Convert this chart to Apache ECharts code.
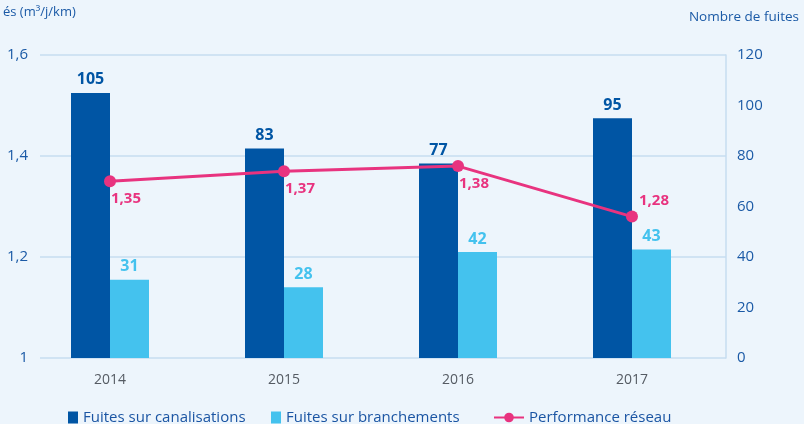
<!DOCTYPE html>
<html>
<head>
<meta charset="utf-8">
<script src="https://cdn.jsdelivr.net/npm/echarts@6/dist/echarts.min.js"></script>
<style>
  html, body { margin: 0; padding: 0; background: #edf5fc; }
  #chart { width: 804px; height: 424px; }
</style>
</head>
<body>
<div id="chart"></div>
<script>
// Years on the category axis
const years = ['2014', '2015', '2016', '2017'];
// Leak counts (right axis)
const fuitesCanalisations = [105, 83, 77, 95];
const fuitesBranchements = [31, 28, 42, 43];
// Network performance in m³/j/km (left axis)
const performanceReseau = [1.35, 1.37, 1.38, 1.28];
// Axis tick settings
const leftTicks = { min: 1, max: 1.6, interval: 0.2 };
const rightTicks = { min: 0, max: 120, interval: 20 };

const DARK = '#0055a4';
const LIGHT = '#44c2ee';
const PINK = '#e8337f';
const AXIS_TEXT = '#1b5aa6';
const GRID_LINE = '#c6dcf0';
const FONT = 'Open Sans';

const fmtComma = v => String(v).replace('.', ',');

const chart = echarts.init(document.getElementById('chart'), null, { renderer: 'canvas' });

const legendBase = {
  top: 405,
  itemGap: 4,
  textStyle: { color: '#1b55a3', fontSize: 15, fontFamily: FONT },
  selectedMode: false
};

chart.setOption({
  backgroundColor: '#edf5fc',
  animation: false,
  textStyle: { fontFamily: FONT },
  title: [
    { text: 'és (m³/j/km)', left: -2, top: 1,
      textStyle: { color: AXIS_TEXT, fontSize: 13, fontWeight: 'normal', fontFamily: FONT } },
    { text: 'Nombre de fuites', right: 0, top: 5,
      textStyle: { color: AXIS_TEXT, fontSize: 13.5, fontWeight: 'normal', fontFamily: FONT } }
  ],
  legend: [
    Object.assign({}, legendBase, { left: 63, itemWidth: 10, itemHeight: 12, icon: 'rect',
      data: ['Fuites sur canalisations'] }),
    Object.assign({}, legendBase, { left: 266, itemWidth: 10, itemHeight: 12, icon: 'rect',
      data: ['Fuites sur branchements'] }),
    Object.assign({}, legendBase, { left: 488, itemWidth: 30, itemHeight: 12,
      data: ['Performance réseau'] })
  ],
  grid: [
    // Frame carrying the visible value axes and grid lines
    { left: 40, right: 78, top: 55, bottom: 66 },
    // Frame carrying the bars, the line and the year labels
    { left: 23, right: 85, top: 55, bottom: 66 }
  ],
  xAxis: [
    { type: 'category', gridIndex: 0, data: years, show: false },
    { type: 'category', gridIndex: 1, data: years,
      axisLine: { show: false }, axisTick: { show: false },
      axisLabel: { color: '#555b63', fontSize: 14, margin: 15, fontFamily: FONT } }
  ],
  yAxis: [
    { type: 'value', gridIndex: 0, position: 'left', ...leftTicks,
      axisLine: { show: false }, axisTick: { show: false },
      axisLabel: { color: AXIS_TEXT, fontSize: 15, margin: 12, formatter: fmtComma, fontFamily: FONT },
      splitLine: { lineStyle: { color: GRID_LINE, width: 1.5 } } },
    { type: 'value', gridIndex: 0, position: 'right', ...rightTicks,
      axisLine: { show: true, lineStyle: { color: GRID_LINE, width: 1.5 } }, axisTick: { show: false },
      axisLabel: { color: AXIS_TEXT, fontSize: 15, margin: 11, fontFamily: FONT },
      splitLine: { show: false } },
    { type: 'value', gridIndex: 1, position: 'left', ...leftTicks, show: false, splitLine: { show: false } },
    { type: 'value', gridIndex: 1, position: 'right', ...rightTicks, show: false, splitLine: { show: false } }
  ],
  series: [
    {
      name: 'Fuites sur canalisations', type: 'bar', xAxisIndex: 1, yAxisIndex: 3,
      data: fuitesCanalisations, barWidth: 39, barGap: '0%',
      itemStyle: { color: DARK },
      label: { show: true, position: 'top', distance: 5, color: DARK, fontSize: 16, fontWeight: 'bold', fontFamily: FONT }
    },
    {
      name: 'Fuites sur branchements', type: 'bar', xAxisIndex: 1, yAxisIndex: 3,
      data: fuitesBranchements, barWidth: 39, barGap: '0%',
      itemStyle: { color: LIGHT },
      label: { show: true, position: 'top', distance: 5, color: LIGHT, fontSize: 16, fontWeight: 'bold', fontFamily: FONT }
    },
    {
      name: 'Performance réseau', type: 'line', xAxisIndex: 1, yAxisIndex: 2,
      z: 5,
      data: performanceReseau.map((v, i) => i === 3
        ? { value: v, label: { position: 'top', offset: [22, 2] } }
        : { value: v }),
      symbol: 'circle', symbolSize: 12,
      lineStyle: { color: PINK, width: 3 },
      itemStyle: { color: PINK },
      label: { show: true, position: 'bottom', offset: [16, 0], distance: 4,
        color: PINK, fontSize: 15, fontWeight: 'bold', fontFamily: FONT,
        formatter: p => fmtComma(p.value) }
    }
  ]
});
</script>
</body>
</html>
